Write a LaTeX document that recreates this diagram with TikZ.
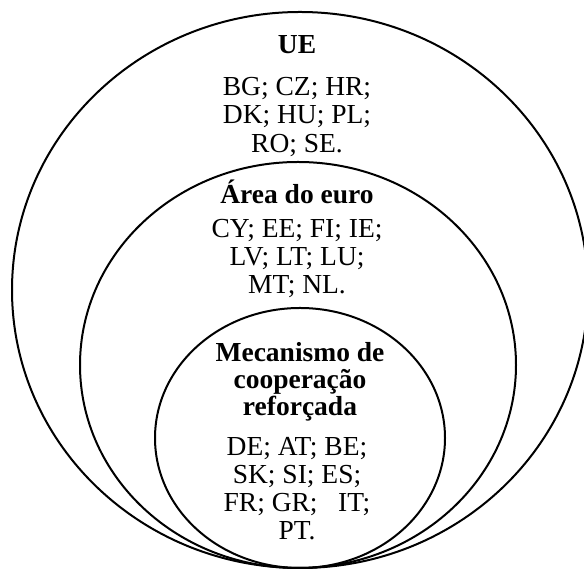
\documentclass[tikz,border=0pt]{standalone}
\usepackage{fontspec}
\setmainfont{Liberation Serif}
\usetikzlibrary{shapes.geometric}

\begin{document}
\begin{tikzpicture}[
    x=1pt, y=1pt,
    ring/.style={ellipse, draw=black, line width=2pt, inner sep=0pt},
    title/.style={font=\fontsize{27.5}{27}\selectfont\bfseries, align=center, inner sep=0pt},
    members/.style={font=\fontsize{27.5}{28}\selectfont, align=center, inner sep=0pt}
]
\useasboundingbox (0,0) rectangle (584,569);
\clip (0,0) rectangle (584,569);

% --- Círculos ---
\node[ring, minimum width=576, minimum height=556] (ue) at (300,279) {};
\node[ring, minimum width=436, minimum height=406] (euro) at (298,204) {};
\node[ring, minimum width=290, minimum height=260] (mcr) at (300,131) {};

% --- Textos ---
\node[title] (ueT) at (297,524) {UE};
\node[members, font=\fontsize{27.5}{28.5}\selectfont] (ueL) at (297,452) {BG; CZ; HR;\\ DK; HU; PL;\\ RO; SE.};

\node[title] (euroT) at (297,377) {Área do euro};
\node[members] (euroL) at (297,310) {CY; EE; FI; IE;\\ LV; LT; LU;\\ MT; NL.};

\node[title] (mcrT) at (300,187) {Mecanismo de\\ cooperação\\ reforçada};
\node[members] (mcrL) at (297,80) {DE; AT; BE;\\ SK; SI; ES;\\ FR; GR;\ \ \ IT;\\ PT.};

\end{tikzpicture}
\end{document}
